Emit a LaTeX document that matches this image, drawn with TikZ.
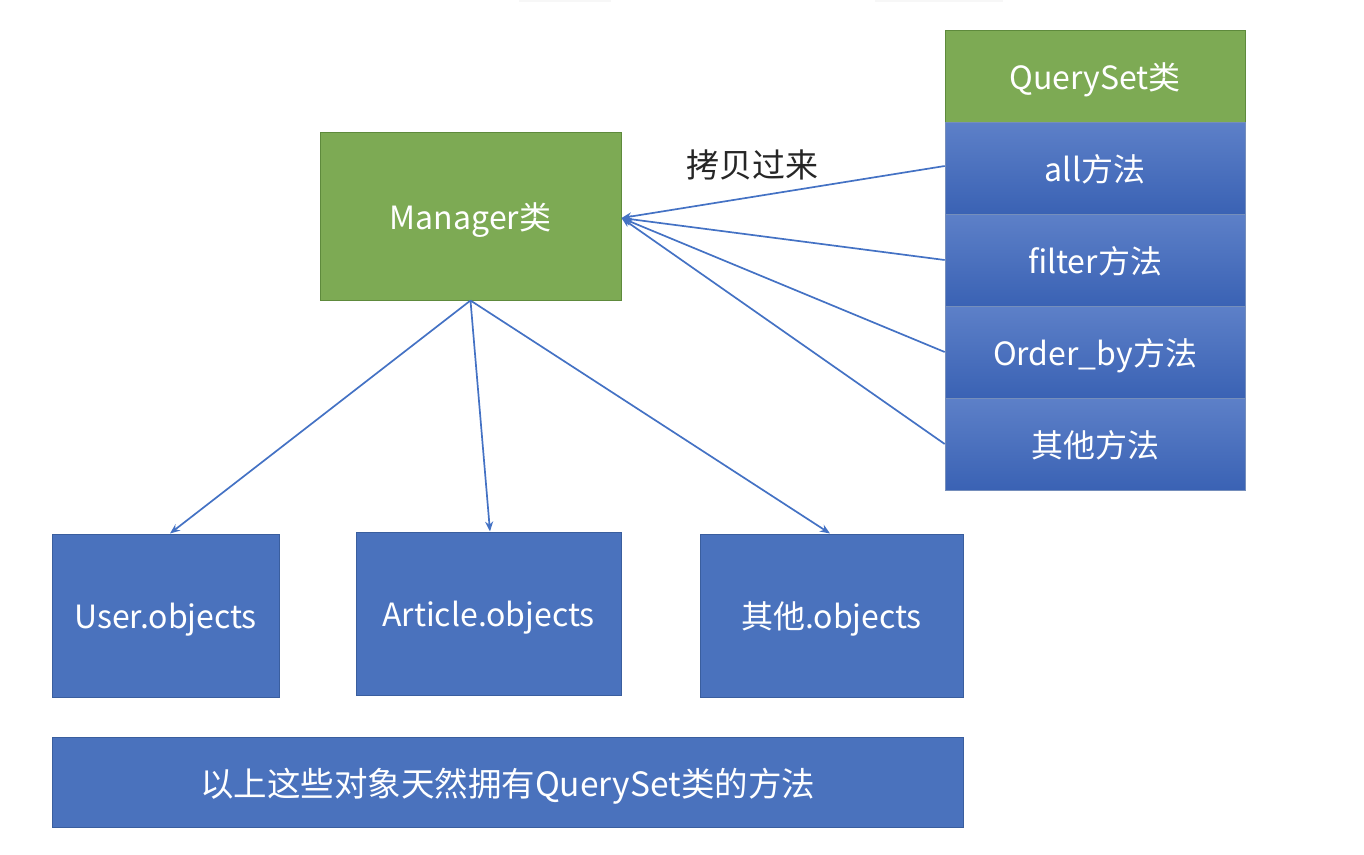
\documentclass[tikz,border=0pt]{standalone}
\usepackage{fontspec}
\setmainfont{Noto Sans CJK SC}
\usetikzlibrary{arrows.meta}
\definecolor{bfill}{HTML}{4A72BD}
\definecolor{bdraw}{HTML}{3A5E9E}
\definecolor{gfill}{HTML}{7DAA54}
\definecolor{gdraw}{HTML}{5E8A3C}
\definecolor{btop}{HTML}{5D80C8}
\definecolor{bbot}{HTML}{3A62B4}
\definecolor{ln}{HTML}{4472C4}
\begin{document}
\begin{tikzpicture}[x=1pt,y=-1pt,
  txt/.style={text=white,font=\fontsize{32}{36}\selectfont,inner sep=0pt,text depth=0pt},
  box/.style={txt,draw=bdraw,line width=1pt,fill=bfill},
  gbox/.style={txt,draw=gdraw,line width=1pt,fill=gfill},
  mbox/.style={txt,draw=bdraw!70,line width=0.6pt,top color=btop,bottom color=bbot,minimum width=300pt,minimum height=92pt},
  arr/.style={draw=ln,line width=1.7pt,-{Stealth[length=10pt,width=8pt]}}]
\useasboundingbox (0,0) rectangle (1364,854);
\fill[gray!6] (519,0) rectangle (611,2);
\fill[gray!6] (875,0) rectangle (1003,2);
% Manager
\node[gbox,minimum width=301pt,minimum height=168pt] (mgr) at (470.5,216) {Manager类};
% QuerySet column
\node[gbox,minimum width=300pt,minimum height=92pt] (qs) at (1095,76) {QuerySet类};
\node[mbox] (all) at (1095,168) {all方法};
\node[mbox] (filter) at (1095,260) {filter方法};
\node[mbox] (order) at (1095,352) {Order\_by方法};
\node[mbox] (other) at (1095,444) {其他方法};
% objects
\node[box,minimum width=227pt,minimum height=163pt] (user) at (165.5,615.5) {User.objects};
\node[box,minimum width=265pt,minimum height=163pt] (art) at (488.5,613.5) {Article.objects};
\node[box,minimum width=263pt,minimum height=163pt] (oth) at (831.5,615.5) {其他.objects};
\node[box,minimum width=911pt,minimum height=90pt,font=\fontsize{33.5}{36}\selectfont] (note) at (507.5,782) {以上这些对象天然拥有QuerySet类的方法};
% label
\node[text=black!85,font=\fontsize{33}{36}\selectfont] (lbl) at (752,165) {拷贝过来};
% arrows
\coordinate (tip) at ([yshift=-2pt]mgr.east);
\draw[arr] ([yshift=2pt]all.west) -- (tip);
\draw[arr] (filter.west) -- (tip);
\draw[arr] (order.west) -- (tip);
\draw[arr] (other.west) -- (tip);
\draw[arr] (mgr.south) -- ([xshift=4.5pt]user.north);
\draw[arr] (mgr.south) -- ([xshift=1.5pt]art.north);
\draw[arr] (mgr.south) -- ([xshift=-1.5pt]oth.north);
\end{tikzpicture}
\end{document}
